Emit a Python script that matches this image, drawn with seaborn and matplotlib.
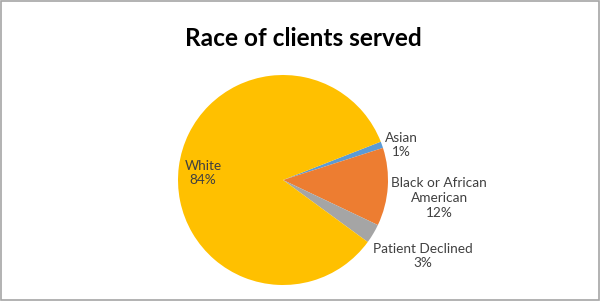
import matplotlib
matplotlib.use("Agg")
import matplotlib.pyplot as plt
import seaborn as sns
from matplotlib.patches import Rectangle

categories = ["Asian", "Black or African\nAmerican", "Patient Declined", "White"]
values = [1, 12, 3, 84]
pct_labels = ["1%", "12%", "3%", "84%"]
colors = ["#5B9BD5", "#ED7D31", "#A5A5A5", "#FFC000"]

sns.set_theme(style="white")
plt.rcParams['font.family'] = ['Lato', 'DejaVu Sans']

fig = plt.figure(figsize=(6.0, 3.01), dpi=100)
fig.patch.set_facecolor("white")
fig.patches.append(Rectangle((0.001, 0.002), 0.997, 0.995, transform=fig.transFigure,
                             fill=False, edgecolor="#A6A6A6", linewidth=1.2))

W, H = 600, 301
cx, cy, r = 283, 180, 105
ax = fig.add_axes([(cx - r) / W, (H - cy - r) / H, 2 * r / W, 2 * r / H])
wedges, _ = ax.pie(values, colors=colors, startangle=21.4, counterclock=False,
                   radius=1, wedgeprops=dict(linewidth=0))
ax.set_xlim(-1, 1)
ax.set_ylim(-1, 1)
ax.set_aspect("equal")
ax.axis("off")

# label anchor positions (layout, in pie-radius units)
label_pos = [(1.124, 0.333), (1.486, -0.171), (1.333, -0.724), (-0.762, 0.067)]
for cat, p, (x, y) in zip(categories, pct_labels, label_pos):
    ax.text(x, y, f"{cat}\n{p}", ha="center", va="center", fontsize=9.8,
            color="#404040", linespacing=1.27, clip_on=False)

fig.text(0.506, 0.872, "Race of clients served", ha="center", va="center",
         fontsize=17.6, fontweight="bold", color="black")

fig.savefig("out.png", dpi=100, facecolor="white")
